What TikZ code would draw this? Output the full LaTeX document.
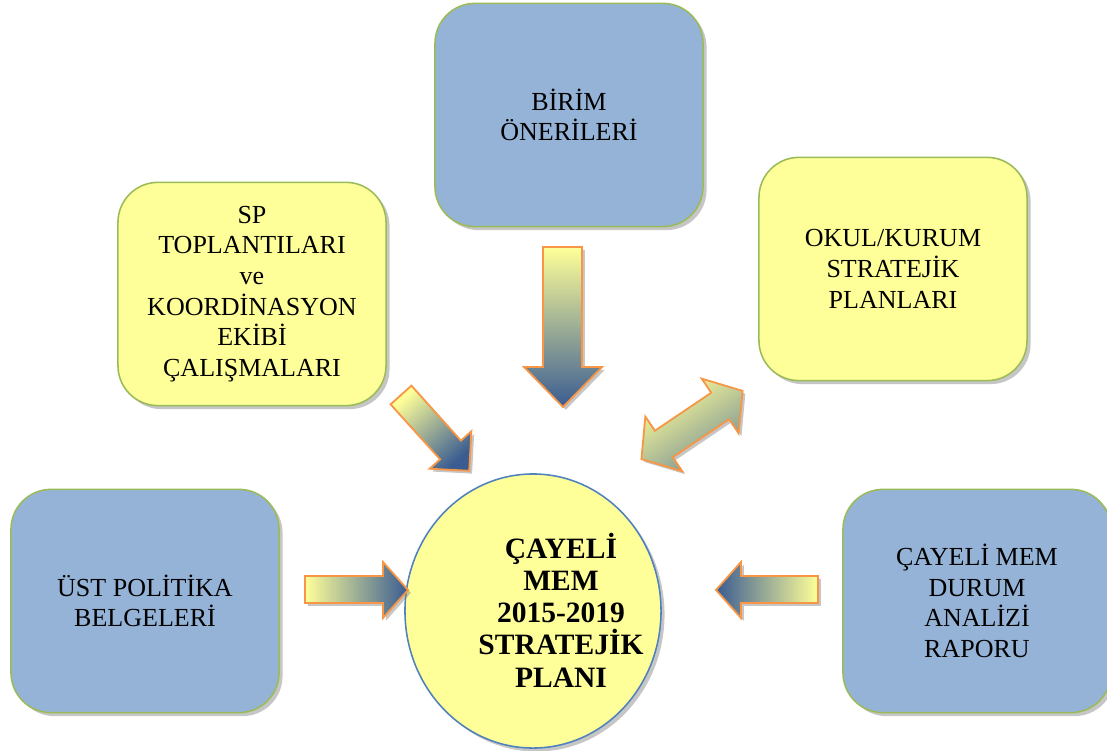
\documentclass[tikz,border=0pt]{standalone}
\usepackage{fontspec}
\setmainfont{Liberation Serif}
\usetikzlibrary{shapes.geometric,shadows}
\definecolor{boxblue}{HTML}{95B3D7}
\definecolor{boxyellow}{HTML}{FFFF99}
\definecolor{boxgreen}{HTML}{9BBB59}
\definecolor{ringblue}{HTML}{4F81BD}
\definecolor{arrowblue}{HTML}{3A5C91}
\definecolor{arroworange}{HTML}{F79646}
\def\boxw{6.7cm}
\def\boxh{5.58cm}

\begin{document}
\begin{tikzpicture}[x=0.025cm, y=-0.025cm]
	\tikzstyle{panel}=[rectangle, rounded corners=1cm, draw=boxgreen, line width=1.1pt, minimum width=\boxw, minimum height=\boxh, align=center, font=\fontsize{18.5}{21.8}\selectfont, drop shadow={shadow xshift=2.5pt, shadow yshift=-2.5pt, opacity=0.45}]
	\tikzstyle{blockarrow}=[draw=arroworange, line width=1.3pt, line join=miter, drop shadow={shadow xshift=2pt, shadow yshift=-2pt, opacity=0.45}]
	\useasboundingbox (0,0) rectangle (1107,751);
	
	% boxes round the plan
	\node[panel, fill=boxblue](birim) at (569,115) {BİRİM\\ÖNERİLERİ};
	\node[panel, fill=boxyellow](sp) at (252,294) {SP\\TOPLANTILARI\\ve\\KOORDİNASYON\\EKİBİ\\ÇALIŞMALARI};
	\node[panel, fill=boxyellow](okul) at (893,269) {OKUL/KURUM\\STRATEJİK\\PLANLARI};
	\node[panel, fill=boxblue](ust) at (145,601) {ÜST POLİTİKA\\BELGELERİ};
	\node[panel, fill=boxblue](durum) at (977,601) {ÇAYELİ MEM\\DURUM\\ANALİZİ\\RAPORU};
	
	% the plan itself
	\node[ellipse, draw=ringblue, line width=1.1pt, fill=boxyellow, minimum width=6.4cm, minimum height=6.85cm, drop shadow={shadow xshift=2.5pt, shadow yshift=-2.5pt, opacity=0.45}](plan) at (533,611) {};
	\node[align=center, font=\bfseries\fontsize{21}{22.9}\selectfont](plan-text) at (561,610) {ÇAYELİ\\MEM\\2015-2019\\STRATEJİK\\PLANI};
	
	% block arrows
	\shade[blockarrow, top color=boxyellow, bottom color=arrowblue] (543,247) -- (582,247) -- (582,367) -- (602,367) -- (563,407) -- (524,367) -- (543,367) -- cycle;
	\shade[blockarrow, left color=boxyellow, right color=arrowblue] (305,576) -- (383,576) -- (383,562) -- (408,590) -- (383,618) -- (383,603) -- (305,603) -- cycle;
	\shade[blockarrow, left color=arrowblue, right color=boxyellow] (818,576) -- (741,576) -- (741,562) -- (716,590) -- (741,618) -- (741,603) -- (818,603) -- cycle;
	\begin{scope}[shift={(401,395)}, rotate=-48]
		\shade[blockarrow, top color=boxyellow, bottom color=arrowblue, shading angle=42] (0,-14) -- (74,-14) -- (74,-28) -- (102,0) -- (74,28) -- (74,14) -- (0,14) -- cycle;
	\end{scope}
	\begin{scope}[shift={(692,425)}, rotate=34]
		\shade[blockarrow, top color=boxyellow, bottom color=arrowblue!70!boxyellow, shading angle=34] (-61,0) -- (-34,-33) -- (-34,-16) -- (34,-16) -- (34,-33) -- (61,0) -- (34,33) -- (34,16) -- (-34,16) -- (-34,33) -- cycle;
	\end{scope}
\end{tikzpicture}
\end{document}
